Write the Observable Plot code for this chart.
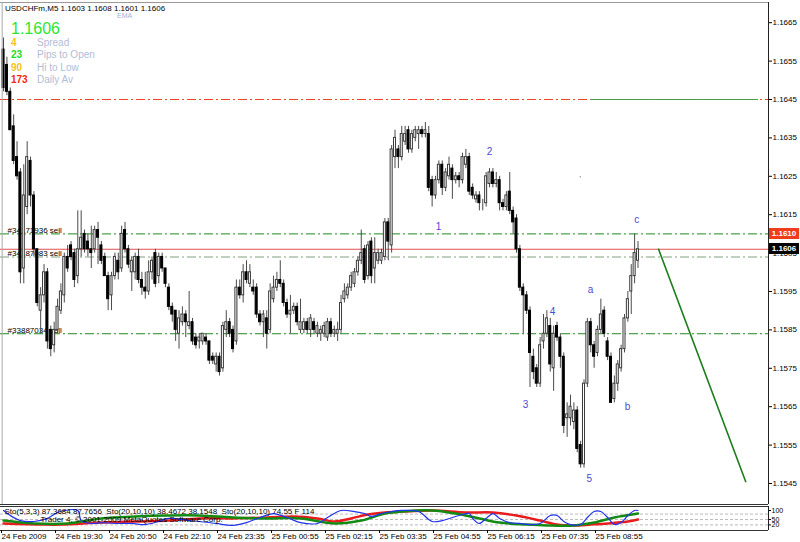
<!DOCTYPE html>
<html><head><meta charset="utf-8">
<script src="https://cdn.jsdelivr.net/npm/d3@7"></script>
<script src="https://cdn.jsdelivr.net/npm/@observablehq/plot@0.6"></script>
<style>
body{margin:0;background:#fff;}
#wrap{position:relative;width:800px;height:542px;overflow:hidden;background:#fff;font-family:"Liberation Sans",Arial,sans-serif;}
#wrap svg{display:block;}
.ov{position:absolute;white-space:nowrap;line-height:1;}
</style></head><body><div id="wrap"></div>
<script>
// ---- OHLC data (M5 bars, 24 Feb 2009 18:10 onward) ----
const opens = [1.1658,1.1654,1.1647,1.1638,1.1630,1.1626,1.1601,1.1617,1.1629,1.1620,1.1606,1.1590,1.1594,1.1600,1.1585,1.1581,1.1585,1.1590,1.1594,1.1604,
1.1607,1.1605,1.1599,1.1606,1.1610,1.1608,1.1606,1.1606,1.1611,1.1607,1.1604,1.1599,1.1594,1.1599,1.1603,1.1601,1.1611,1.1606,1.1600,1.1600,
1.1604,1.1598,1.1596,1.1595,1.1600,1.1605,1.1599,1.1604,1.1601,1.1596,1.1591,1.1590,1.1584,1.1587,1.1589,1.1586,1.1587,1.1583,1.1582,1.1582,
1.1583,1.1582,1.1578,1.1576,1.1578,1.1575,1.1585,1.1587,1.1585,1.1582,1.1596,1.1594,1.1600,1.1597,1.1596,1.1596,1.1589,1.1587,1.1588,1.1585,
1.1593,1.1596,1.1598,1.1597,1.1592,1.1589,1.1590,1.1591,1.1585,1.1585,1.1587,1.1585,1.1587,1.1584,1.1584,1.1584,1.1583,1.1587,1.1584,1.1584,
1.1585,1.1593,1.1594,1.1596,1.1597,1.1600,1.1603,1.1606,1.1599,1.1608,1.1601,1.1603,1.1603,1.1604,1.1613,1.1607,1.1630,1.1632,1.1630,1.1634,
1.1637,1.1632,1.1635,1.1636,1.1637,1.1636,1.1636,1.1624,1.1620,1.1624,1.1628,1.1622,1.1625,1.1627,1.1624,1.1625,1.1624,1.1628,1.1630,1.1622,
1.1619,1.1620,1.1618,1.1618,1.1623,1.1626,1.1623,1.1624,1.1618,1.1617,1.1621,1.1616,1.1614,1.1606,1.1596,1.1594,1.1590,1.1578,1.1575,1.1571,
1.1582,1.1584,1.1586,1.1575,1.1586,1.1583,1.1578,1.1562,1.1562,1.1561,1.1564,1.1555,1.1550,1.1571,1.1587,1.1581,1.1579,1.1585,1.1590,1.1582,
1.1578,1.1567,1.1571,1.1575,1.1580,1.1588,1.1595,1.1599,1.1603];
const highs = [1.1661,1.1656,1.1648,1.1641,1.1634,1.1627,1.1628,1.1634,1.1630,1.1621,1.1606,1.1596,1.1602,1.1601,1.1586,1.1587,1.1593,1.1597,1.1605,1.1607,
1.1608,1.1606,1.1616,1.1616,1.1611,1.1610,1.1612,1.1612,1.1613,1.1608,1.1605,1.1600,1.1600,1.1605,1.1605,1.1612,1.1613,1.1607,1.1604,1.1605,
1.1606,1.1600,1.1600,1.1603,1.1604,1.1606,1.1605,1.1605,1.1601,1.1597,1.1592,1.1590,1.1590,1.1591,1.1590,1.1595,1.1588,1.1584,1.1584,1.1584,
1.1584,1.1582,1.1579,1.1579,1.1579,1.1587,1.1590,1.1588,1.1586,1.1598,1.1598,1.1602,1.1603,1.1602,1.1598,1.1597,1.1590,1.1590,1.1590,1.1597,
1.1599,1.1600,1.1603,1.1598,1.1593,1.1594,1.1592,1.1592,1.1593,1.1588,1.1588,1.1589,1.1588,1.1587,1.1586,1.1587,1.1588,1.1588,1.1586,1.1587,
1.1594,1.1597,1.1597,1.1600,1.1601,1.1604,1.1611,1.1607,1.1608,1.1609,1.1609,1.1606,1.1606,1.1614,1.1614,1.1633,1.1637,1.1633,1.1638,1.1638,
1.1638,1.1637,1.1638,1.1638,1.1638,1.1639,1.1638,1.1625,1.1625,1.1629,1.1629,1.1627,1.1630,1.1628,1.1626,1.1626,1.1631,1.1632,1.1631,1.1623,
1.1621,1.1621,1.1619,1.1626,1.1627,1.1627,1.1626,1.1625,1.1619,1.1621,1.1626,1.1617,1.1615,1.1607,1.1597,1.1595,1.1591,1.1580,1.1576,1.1583,
1.1589,1.1590,1.1588,1.1586,1.1587,1.1584,1.1579,1.1566,1.1568,1.1566,1.1565,1.1556,1.1572,1.1588,1.1588,1.1582,1.1586,1.1593,1.1591,1.1583,
1.1579,1.1573,1.1577,1.1581,1.1589,1.1595,1.1602,1.1610,1.1608];
const lows = [1.1647,1.1646,1.1637,1.1628,1.1624,1.1597,1.1597,1.1615,1.1617,1.1604,1.1591,1.1584,1.1592,1.1580,1.1578,1.1579,1.1584,1.1589,1.1592,1.1600,
1.1603,1.1596,1.1597,1.1604,1.1605,1.1604,1.1601,1.1605,1.1602,1.1602,1.1599,1.1590,1.1590,1.1598,1.1598,1.1600,1.1605,1.1601,1.1595,1.1598,
1.1597,1.1594,1.1593,1.1594,1.1598,1.1596,1.1597,1.1600,1.1596,1.1590,1.1587,1.1582,1.1580,1.1586,1.1583,1.1585,1.1581,1.1580,1.1580,1.1581,
1.1581,1.1576,1.1576,1.1574,1.1573,1.1574,1.1583,1.1583,1.1579,1.1581,1.1593,1.1592,1.1597,1.1596,1.1594,1.1588,1.1586,1.1583,1.1580,1.1584,
1.1592,1.1595,1.1596,1.1591,1.1588,1.1584,1.1589,1.1586,1.1584,1.1584,1.1584,1.1583,1.1584,1.1583,1.1582,1.1583,1.1582,1.1583,1.1583,1.1582,
1.1584,1.1592,1.1593,1.1595,1.1596,1.1599,1.1602,1.1597,1.1598,1.1597,1.1597,1.1602,1.1602,1.1603,1.1603,1.1605,1.1627,1.1627,1.1629,1.1633,
1.1631,1.1631,1.1634,1.1632,1.1635,1.1635,1.1621,1.1617,1.1619,1.1623,1.1620,1.1621,1.1624,1.1619,1.1623,1.1622,1.1623,1.1627,1.1620,1.1619,
1.1618,1.1616,1.1616,1.1617,1.1622,1.1622,1.1622,1.1616,1.1616,1.1616,1.1615,1.1610,1.1605,1.1595,1.1584,1.1589,1.1570,1.1572,1.1570,1.1570,
1.1580,1.1583,1.1574,1.1569,1.1582,1.1575,1.1558,1.1557,1.1560,1.1559,1.1553,1.1549,1.1549,1.1570,1.1579,1.1575,1.1578,1.1584,1.1583,1.1577,
1.1566,1.1566,1.1569,1.1574,1.1579,1.1587,1.1589,1.1597,1.1601];
const closes = [1.1648,1.1647,1.1637,1.1629,1.1625,1.1600,1.1620,1.1630,1.1620,1.1606,1.1592,1.1594,1.1600,1.1582,1.1580,1.1585,1.1591,1.1595,1.1604,1.1601,
1.1604,1.1598,1.1606,1.1609,1.1606,1.1606,1.1605,1.1611,1.1609,1.1603,1.1599,1.1593,1.1599,1.1604,1.1600,1.1610,1.1606,1.1602,1.1603,1.1604,
1.1598,1.1596,1.1595,1.1600,1.1603,1.1597,1.1604,1.1601,1.1597,1.1591,1.1589,1.1585,1.1588,1.1589,1.1587,1.1587,1.1582,1.1581,1.1583,1.1584,
1.1582,1.1577,1.1577,1.1578,1.1574,1.1586,1.1587,1.1584,1.1580,1.1596,1.1594,1.1600,1.1598,1.1600,1.1595,1.1589,1.1587,1.1589,1.1584,1.1595,
1.1596,1.1598,1.1597,1.1592,1.1589,1.1590,1.1591,1.1587,1.1587,1.1587,1.1585,1.1588,1.1585,1.1586,1.1585,1.1586,1.1587,1.1584,1.1585,1.1585,
1.1592,1.1595,1.1596,1.1599,1.1600,1.1603,1.1605,1.1598,1.1607,1.1599,1.1605,1.1605,1.1605,1.1613,1.1608,1.1632,1.1635,1.1630,1.1636,1.1636,
1.1632,1.1636,1.1637,1.1637,1.1636,1.1637,1.1622,1.1620,1.1624,1.1628,1.1622,1.1626,1.1628,1.1624,1.1625,1.1624,1.1630,1.1630,1.1621,1.1620,
1.1620,1.1618,1.1618,1.1625,1.1626,1.1623,1.1624,1.1618,1.1617,1.1620,1.1616,1.1613,1.1606,1.1596,1.1594,1.1590,1.1579,1.1574,1.1571,1.1581,
1.1584,1.1588,1.1576,1.1584,1.1583,1.1578,1.1560,1.1563,1.1565,1.1564,1.1554,1.1550,1.1571,1.1587,1.1581,1.1578,1.1585,1.1589,1.1584,1.1578,
1.1566,1.1571,1.1576,1.1580,1.1588,1.1593,1.1599,1.1605,1.1606];

// ---- axis labels ----
const priceTicks = [1.1545,1.1555,1.1565,1.1575,1.1585,1.1595,1.1605,1.1615,1.1625,1.1635,1.1645,1.1655,1.1665];
const timeTickIdx = [0,16,32,48,64,80,96,112,128,144,160,176];
const timeTickLabels = ["24 Feb 2009","24 Feb 19:30","24 Feb 20:50","24 Feb 22:10","24 Feb 23:35","25 Feb 00:55","25 Feb 02:15","25 Feb 03:35","25 Feb 04:55","25 Feb 06:15","25 Feb 07:35","25 Feb 08:55"];

// ---- horizontal levels / order lines ----
const dailyLevel = 1.1645;
const sell1Price = 1.1610, sell1Label = "#34171936 sell";
const bidPrice = 1.1606;
const sell2Price = 1.1604, sell2Label = "#34187083 sell";
const sell3Price = 1.1584, sell3Label = "#33887034 sell";
const targetSegIdx = [174, 223.7];
const trendIdx = [194.1, 219.9];
const trendPrice = [1.1606, 1.15455];

// ---- Elliott wave labels ----
const waveText = ["1","2","3","4","5","a","b","c"];
const waveIdx = [128.9,144,154.7,162.7,173.6,173.9,184.9,187.6];
const wavePrice = [1.16119,1.16315,1.15656,1.15898,1.15463,1.15955,1.15650,1.16138];

// ---- stochastic sub-window ----
const blueIdx = [0,2,5,9,13,16,18,22,23,26,29,33,38,42,46,49,55,58,63,68,72,76,80,84,88,93,96,100,104,107,109,112,115,118,123,127,130,135,138,139,141,143,145,147,150,153,156,159,162,164,166,168,171,173,175,177,179,181,183,185,187,188];
const blueVal = [100,72,44,39,56,89,100,100,44,28,33,28,28,22,39,56,44,39,28,17,33,61,83,61,33,28,61,100,94,83,67,83,94,100,94,39,44,72,83,56,28,56,83,56,33,28,22,28,72,72,39,22,22,61,94,94,61,22,33,72,100,100];
const redIdx = [0,12,17,29,39,49,58,68,78,86,93,98,103,108,113,118,127,137,145,152,159,164,169,174,179,185,188];
const redVal = [28,22,22,33,39,44,56,56,61,67,56,39,56,78,89,94,100,89,89,72,44,22,17,22,28,39,50];
const greenIdx = [0,9,19,29,39,49,58,68,78,88,98,106,113,118,127,134,141,147,155,161,169,175,181,188];
const greenVal = [44,28,28,56,67,72,72,61,56,56,28,44,83,94,100,83,56,33,22,17,17,33,61,83];
const stochLevels = [80,50,20];
const stochAxisLabels = [100,50,20];

// ---------------------------------------------------------
const bars = opens.map((o,i)=>({i,o,h:highs[i],l:lows[i],c:closes[i]}));
const bull = bars.filter(d=>d.c>=d.o), bear = bars.filter(d=>d.c<d.o);
const X_DOMAIN = [-0.9, 226.67];
const Y_DOMAIN = [1.153953, 1.167026];
const FONT = "Liberation Sans, Arial, sans-serif";
const dashDot = "9,3,2,3";
const waves = waveText.map((t,k)=>({t,x:waveIdx[k],y:wavePrice[k]}));
const trend = trendIdx.map((x,k)=>({x,y:trendPrice[k]}));

const main = Plot.plot({
  width: 800, height: 505,
  marginLeft: 0, marginRight: 32, marginTop: 2, marginBottom: 1,
  x: {domain: X_DOMAIN, axis: null},
  y: {domain: Y_DOMAIN, axis: null},
  style: {fontFamily: FONT, background: "white", overflow: "visible"},
  marks: [
    Plot.ruleY([dailyLevel], {stroke: "#ee4422", strokeDasharray: dashDot}),
    Plot.ruleY([dailyLevel], {x1: targetSegIdx[0], x2: targetSegIdx[1], stroke: "#4c9c4c", strokeWidth: 1.2}),
    Plot.ruleY([sell2Price], {stroke: "#bfd0bf", strokeWidth: 2, strokeDasharray: dashDot}),
    Plot.ruleY([sell1Price, sell3Price], {stroke: "#1f8a1f", strokeDasharray: dashDot}),
    Plot.ruleY([bidPrice], {stroke: "#e05050"}),
    Plot.text([sell1Label], {x: 1.2, y: sell1Price, text: d=>d, textAnchor: "start", lineAnchor: "bottom", dy: -1, fontSize: 8, fill: "#000"}),
    Plot.text([sell2Label], {x: 1.2, y: sell2Price, text: d=>d, textAnchor: "start", lineAnchor: "bottom", dy: -1, fontSize: 8, fill: "#000"}),
    Plot.text([sell3Label], {x: 1.2, y: sell3Price, text: d=>d, textAnchor: "start", lineAnchor: "bottom", dy: -1, fontSize: 8, fill: "#000"}),
    // candles
    Plot.ruleX(bars, {x: "i", y1: "l", y2: "h", stroke: "#4a4a4a", strokeWidth: 1}),
    Plot.rect(bull, {x1: d=>d.i-0.3, x2: d=>d.i+0.3, y1: "o", y2: "c", fill: "white", stroke: "#3a3a3a", strokeWidth: 1}),
    Plot.rect(bear, {x1: d=>d.i-0.3, x2: d=>d.i+0.3, y1: "o", y2: "c", fill: "black", stroke: "black", strokeWidth: 1}),
    Plot.line(trend, {x: "x", y: "y", stroke: "#1d7d1d", strokeWidth: 1.6}),
    Plot.text(waves, {x: "x", y: "y", text: "t", fill: "#4a4ad2", fontSize: 10}),
    Plot.dot([{x:170.9,y:1.16249}], {x:"x", y:"y", r: 0.8, fill: "#999", stroke: null}),
    // frame & price axis
    Plot.ruleY([Y_DOMAIN[1]], {stroke: "#999"}),
    Plot.ruleY([Y_DOMAIN[0]], {stroke: "#333"}),
    Plot.ruleX([X_DOMAIN[0]+0.5], {stroke: "#aaa"}),
    Plot.ruleX([X_DOMAIN[1]], {stroke: "#222"}),
    Plot.axisY(priceTicks, {anchor: "right", label: null, tickSize: 3, tickPadding: 1, tickFormat: d=>d.toFixed(4), fontSize: 8, fill: "#000", stroke: "#000"})
  ]
});

const stochSeries = (idx, val) => idx.map((x,k)=>({x, v: val[k]}));
const tickMap = new Map(timeTickIdx.map((d,k)=>[d, timeTickLabels[k]]));
const sub = Plot.plot({
  width: 800, height: 37,
  marginLeft: 0, marginRight: 32, marginTop: 1, marginBottom: 12,
  x: {domain: X_DOMAIN, axis: null},
  y: {domain: [-11, 122], axis: null},
  style: {fontFamily: FONT, background: "white", overflow: "visible"},
  marks: [
    Plot.ruleY(stochLevels, {stroke: "#bbb", strokeDasharray: "3,2"}),
    Plot.line(stochSeries(redIdx, redVal), {x: "x", y: "v", stroke: "#e81c1c", strokeWidth: 2.5, curve: "catmull-rom"}),
    Plot.line(stochSeries(greenIdx, greenVal), {x: "x", y: "v", stroke: "#138a13", strokeWidth: 2.5, curve: "catmull-rom"}),
    Plot.line(stochSeries(blueIdx, blueVal), {x: "x", y: "v", stroke: "#2233ee", strokeWidth: 1.2, curve: "catmull-rom"}),
    Plot.text(["Sto(5,3,3) 87.3684 87.7656  Sto(20,10,10) 38.4672 38.1548  Sto(20,10,10) 74.55 F 114"], {frameAnchor: "top-left", dx: 4, dy: 2, text: d=>d, fontSize: 8, fill: "#000", textAnchor: "start", lineAnchor: "top"}),
    Plot.text(["Trader 4, © 2001-2009 MetaQuotes Software Corp."], {frameAnchor: "top-left", dx: 40, dy: 10, text: d=>d, fontSize: 8, fill: "#000", textAnchor: "start", lineAnchor: "top"}),
    Plot.ruleY([122], {stroke: "#333"}),
    Plot.ruleY([-11], {stroke: "#333"}),
    Plot.ruleX([X_DOMAIN[1]], {stroke: "#222"}),
    Plot.axisY(stochAxisLabels, {anchor: "right", label: null, tickSize: 2, tickPadding: 1, fontSize: 7, fill: "#000"}),
    Plot.axisX(timeTickIdx, {anchor: "bottom", label: null, tickSize: 3, tickPadding: 0, dx: -2, textAnchor: "start", tickFormat: d=>tickMap.get(d), fontSize: 8, fill: "#000"})
  ]
});

const wrap = document.getElementById("wrap");
wrap.appendChild(main);
wrap.appendChild(sub);

// price tags on the axis
const ys = main.scale("y");
function tag(price, bg){
  const d = document.createElement("div");
  d.className = "ov";
  d.textContent = price.toFixed(4);
  Object.assign(d.style, {left: "769px", top: (ys.apply(price)-5.5)+"px", width: "30px", height: "11px", background: bg, color: "#fff", fontSize: "8px", fontWeight: "bold", textAlign: "center", lineHeight: "11px"});
  wrap.appendChild(d);
}
tag(sell1Price, "#f03c1a");
tag(bidPrice, "#000");

// info panel (top-left)
const infoNums = ["4","23","90","173"];
const infoNames = ["Spread","Pips to Open","Hi to Low","Daily Av"];
const infoColors = ["#f2c21c","#22dd22","#f2c21c","#f22a0a"];
const headerText = "USDCHFm,M5  1.1603 1.1608 1.1601 1.1606";
const bigPrice = "1.1606";
function ov(text, left, top, style){
  const d = document.createElement("div");
  d.className = "ov"; d.textContent = text;
  Object.assign(d.style, {left: left+"px", top: top+"px"}, style);
  wrap.appendChild(d);
}
ov(headerText, 5, 5, {fontSize: "8px", color: "#000"});
ov("EMA", 117, 12, {fontSize: "7px", color: "#9fb0d6"});
ov(bigPrice, 11, 21, {fontSize: "16px", color: "#2ee62e"});
infoNums.forEach((n,k)=>{
  ov(n, 11, 38 + k*12.3, {fontSize: "10px", fontWeight: "bold", color: infoColors[k]});
  ov(infoNames[k], 37, 38 + k*12.3, {fontSize: "10px", color: "#b2bcd6"});
});
</script></body></html>
